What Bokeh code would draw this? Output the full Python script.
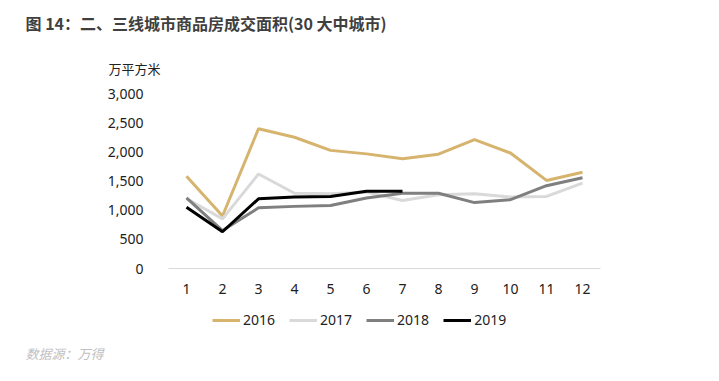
from bokeh.plotting import figure
from bokeh.models import Label, Legend, LegendItem, Range1d, FixedTicker, NumeralTickFormatter, LinearAxis
from bokeh.embed import file_html
from bokeh.resources import INLINE

months = list(range(1, 13))
y2016 = [1580, 900, 2395, 2250, 2025, 1965, 1880, 1960, 2210, 1980, 1510, 1650]
y2017 = [1200, 850, 1620, 1290, 1280, 1310, 1165, 1265, 1280, 1225, 1235, 1465]
y2018 = [1210, 650, 1040, 1065, 1080, 1210, 1290, 1290, 1130, 1180, 1420, 1555]
y2019 = [1050, 630, 1195, 1225, 1235, 1325, 1325]
series_names = ["2016", "2017", "2018", "2019"]
series_colors = ["#D6B46E", "#D9D9D9", "#7F7F7F", "#000000"]
y_ticks = [0, 500, 1000, 1500, 2000, 2500, 3000]

W, H = 711, 373
X0_PX, DX_PX = 186.0, 36.0          # month 1 position, pixels per month
Y0_PX, DY_PX = 268.0, 175.0 / 3000  # value 0 position, pixels per unit

def px_to_x(px):
    return 1 + (px - X0_PX) / DX_PX

def py_to_y(py):
    return (Y0_PX - py) / DY_PX

p = figure(width=W, height=H, output_backend="svg", toolbar_location=None,
           x_range=Range1d(px_to_x(0), px_to_x(W)), y_range=Range1d(py_to_y(H), py_to_y(0)),
           x_axis_location=None, y_axis_location=None,
           min_border=0, min_border_left=0, min_border_right=0,
           min_border_top=0, min_border_bottom=0)
p.outline_line_color = None
p.grid.visible = False
p.background_fill_color = "white"
p.border_fill_color = "white"

renderers = []
for name, ys, c in zip(series_names, [y2016, y2017, y2018, y2019], series_colors):
    r = p.line(months[:len(ys)], ys, line_color=c, line_width=3)
    renderers.append(r)

xa = LinearAxis(fixed_location=0, bounds=(0.5, 12.5))
xa.ticker = FixedTicker(ticks=months)
xa.axis_line_color = "#D9D9D9"
xa.axis_line_width = 1
xa.major_tick_line_color = None
xa.minor_tick_line_color = None
xa.major_label_standoff = 9
xa.major_label_text_font = "Noto Sans"
xa.major_label_text_font_size = "14px"
xa.major_label_text_color = "#222222"
p.add_layout(xa, "below")

ya = LinearAxis(fixed_location=0.5, bounds=(0, 3000))
ya.ticker = FixedTicker(ticks=y_ticks)
ya.formatter = NumeralTickFormatter(format="0,0")
ya.axis_line_color = None
ya.major_tick_line_color = None
ya.minor_tick_line_color = None
ya.major_label_standoff = 19
ya.major_label_text_font = "Noto Sans"
ya.major_label_text_font_size = "14px"
ya.major_label_text_color = "#222222"
p.add_layout(ya, "left")

legend = Legend(items=[LegendItem(label=n, renderers=[r]) for n, r in zip(series_names, renderers)],
                orientation="horizontal", location=(212, H - 329),
                glyph_width=28, glyph_height=16, label_standoff=3, spacing=14,
                padding=0, margin=0, border_line_color=None, background_fill_alpha=0,
                label_text_font="Noto Sans", label_text_font_size="14px",
                label_text_color="#222222", label_height=16)
p.add_layout(legend)

p.add_layout(Label(x=px_to_x(25), y=py_to_y(22), text="图 14：二、三线城市商品房成交面积(30 大中城市)",
                   text_font="Noto Sans CJK SC", text_font_style="bold", text_font_size="16px",
                   text_color="#3F3F3F", text_baseline="middle", text_align="left"))
p.add_layout(Label(x=px_to_x(108), y=py_to_y(68), text="万平方米",
                   text_font="Noto Sans CJK SC", text_font_size="13px",
                   text_color="#222222", text_baseline="middle", text_align="left"))
p.add_layout(Label(x=px_to_x(25), y=py_to_y(353), text="数据源：万得",
                   text_font="Noto Sans CJK SC", text_font_style="italic", text_font_size="13px",
                   text_color="#BFBFBF", text_baseline="middle", text_align="left"))

open("out.html", "w").write(file_html(p, INLINE))
